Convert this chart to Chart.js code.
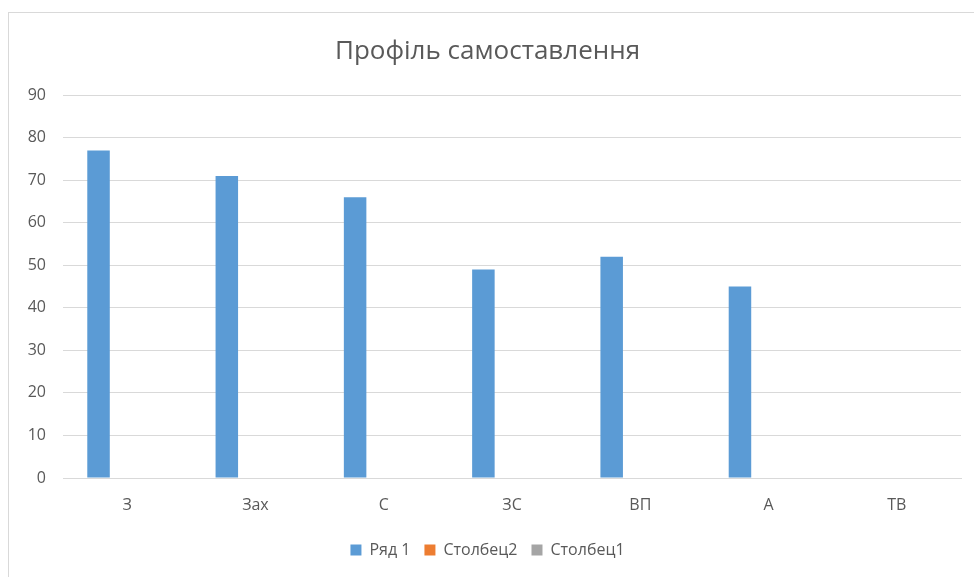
<!DOCTYPE html>
<html>
<head>
<meta charset="utf-8">
<script src="https://cdn.jsdelivr.net/npm/chart.js@4"></script>
<style>
  html, body { margin: 0; padding: 0; background: #fff; }
  #frame {
    position: absolute; left: 8px; top: 12px; width: 980px; height: 600px;
    border: 1px solid #d9d9d9; box-sizing: border-box;
  }
  #wrap { position: absolute; left: 0; top: 0; width: 974px; height: 577px; }
</style>
</head>
<body>
<div id="frame"></div>
<div id="wrap"><canvas id="chart"></canvas></div>
<script>
const categories = ['З', 'Зах', 'С', 'ЗС', 'ВП', 'А', 'ТВ'];
const row1 = [77, 71, 66, 49, 52, 45, null];
const column2 = [null, null, null, null, null, null, null];
const column1 = [null, null, null, null, null, null, null];
const yTicks = [0, 10, 20, 30, 40, 50, 60, 70, 80, 90];

const textColor = '#595959';
const fontFamily = '"Open Sans", "Noto Sans", sans-serif';

const chartConfig = {
  type: 'bar',
  data: {
    labels: categories,
    datasets: [
      { label: 'Ряд 1', data: row1, backgroundColor: '#5b9bd5' },
      { label: 'Столбец2', data: column2, backgroundColor: '#ed7d31' },
      { label: 'Столбец1', data: column1, backgroundColor: '#a5a5a5' },
    ]
  },
  options: {
    responsive: true,
    maintainAspectRatio: false,
    animation: false,
    categoryPercentage: 0.669,
    barPercentage: 0.787,
    layout: { padding: { left: 14, right: 13, top: 0, bottom: 9 } },
    scales: {
      x: {
        grid: { display: false },
        border: { display: true, color: '#d9d9d9', width: 1 },
        ticks: { color: textColor, font: { family: fontFamily, size: 16 }, padding: 10 },
        afterFit(scale) { scale.height = 50; },
      },
      y: {
        min: 0,
        max: 90,
        afterBuildTicks(scale) { scale.ticks = yTicks.map(v => ({ value: v })); },
        grid: { color: '#d9d9d9', drawTicks: false },
        border: { display: false },
        ticks: { color: textColor, font: { family: fontFamily, size: 16 }, padding: 17 },
        afterFit(scale) { scale.width = 49; },
      },
    },
    plugins: {
      title: {
        display: true,
        text: 'Профіль самоставлення',
        color: textColor,
        font: { family: fontFamily, size: 26, weight: 'normal' },
        padding: { top: 36, bottom: 28 },
      },
      legend: {
        position: 'bottom',
        labels: {
          color: textColor,
          font: { family: fontFamily, size: 16 },
          boxWidth: 11,
          boxHeight: 11,
          padding: 14,
        },
      },
      tooltip: { enabled: false },
    }
  },
};

const chart = new Chart(document.getElementById('chart'), chartConfig);
</script>
</body>
</html>
